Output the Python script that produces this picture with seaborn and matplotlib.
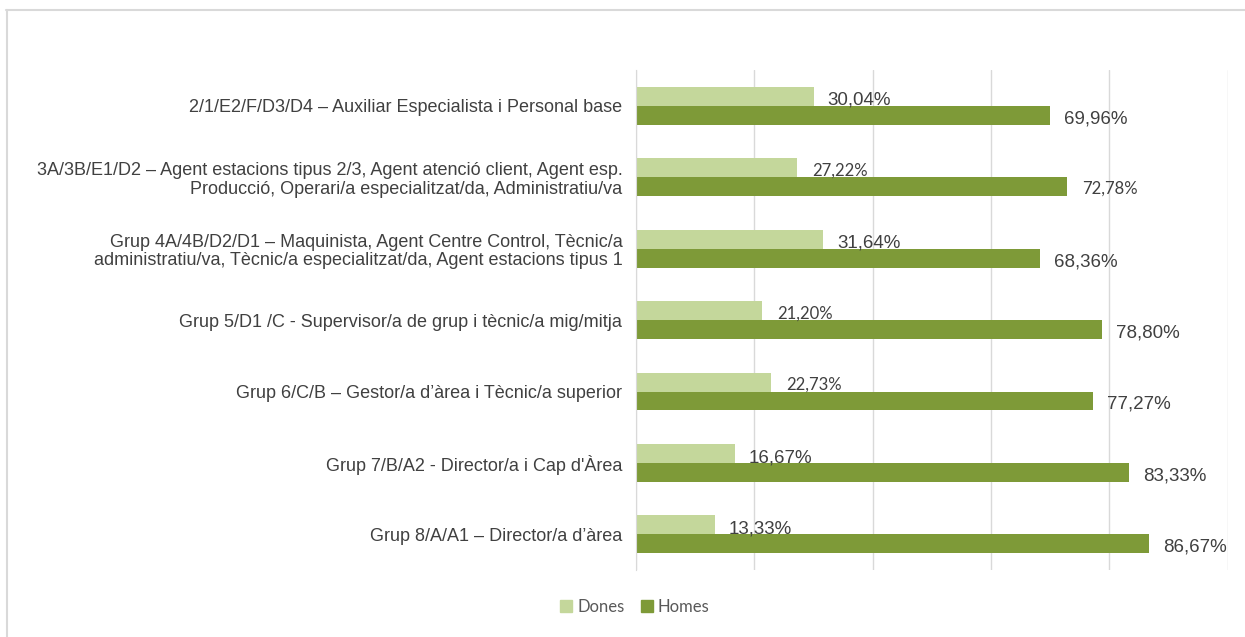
import pandas as pd
import matplotlib.pyplot as plt
import seaborn as sns
from matplotlib.lines import Line2D

categories = [
    "2/1/E2/F/D3/D4 – Auxiliar Especialista i Personal base",
    "3A/3B/E1/D2 – Agent estacions tipus 2/3, Agent atenció client, Agent esp.\nProducció, Operari/a especialitzat/da, Administratiu/va",
    "Grup 4A/4B/D2/D1 – Maquinista, Agent Centre Control, Tècnic/a\nadministratiu/va, Tècnic/a especialitzat/da, Agent estacions tipus 1",
    "Grup 5/D1 /C - Supervisor/a de grup i tècnic/a mig/mitja",
    "Grup 6/C/B – Gestor/a d’àrea i Tècnic/a superior",
    "Grup 7/B/A2 - Director/a i Cap d'Àrea",
    "Grup 8/A/A1 – Director/a d’àrea",
]
series = ["Dones", "Homes"]
dones = [30.04, 27.22, 31.64, 21.20, 22.73, 16.67, 13.33]
homes = [69.96, 72.78, 68.36, 78.80, 77.27, 83.33, 86.67]

# labels that appear in the smaller, Calibri-like font in the original
small_labels = {("Dones", 1), ("Homes", 1), ("Dones", 3), ("Dones", 4)}

colors = {"Dones": "#c4d79b", "Homes": "#7e9a38"}

df = pd.DataFrame({
    "categoria": categories * 2,
    "grup": ["Dones"] * len(categories) + ["Homes"] * len(categories),
    "valor": dones + homes,
})

sns.set_style("white")
plt.rcParams['font.family'] = ['Liberation Sans', 'DejaVu Sans']

fig = plt.figure(figsize=(12.45, 6.37), dpi=100)
ax = fig.add_axes([0.511, 0.105, 0.475, 0.785])

sns.barplot(data=df, y="categoria", x="valor", hue="grup", hue_order=series,
            order=categories, palette=colors, orient="h", width=0.53,
            saturation=1, ax=ax, legend=False, edgecolor="none")

ax.set_xlim(0, 100)
ax.set_xticks([0, 20, 40, 60, 80, 100])
ax.set_xticklabels([])
ax.grid(axis="x", color="#d9d9d9", linewidth=1)
ax.set_axisbelow(True)
for side in ["top", "right", "bottom"]:
    ax.spines[side].set_visible(False)
ax.spines["left"].set_color("#d9d9d9")
ax.tick_params(axis="both", length=0)
ax.tick_params(axis="y", pad=10, labelsize=13, labelcolor="#404040")
for lab in ax.get_yticklabels():
    lab.set_linespacing(1.1)
ax.set_xlabel("")
ax.set_ylabel("")

for container, name in zip(ax.containers, series):
    vals = dones if name == "Dones" else homes
    for i, (bar, v) in enumerate(zip(container, vals)):
        y = bar.get_y() + bar.get_height() / 2
        txt = f"{v:.2f}%".replace(".", ",")
        dy = -3 if name == "Dones" else -2.5
        if (name, i) in small_labels:
            ax.annotate(txt, (bar.get_width(), y), xytext=(11, dy + 1),
                        textcoords="offset points", va="center", ha="left",
                        fontsize=12, family=["Lato", "DejaVu Sans"], color="#404040")
        else:
            ax.annotate(txt, (bar.get_width(), y), xytext=(10, dy),
                        textcoords="offset points", va="center", ha="left",
                        fontsize=13.5, color="#404040")

handles = [plt.Rectangle((0, 0), 1, 1, color=colors[s]) for s in series]
fig.legend(handles, series, loc="center", bbox_to_anchor=(0.51, 0.047), ncol=2,
           frameon=False, handlelength=0.7, handleheight=0.7, handletextpad=0.3,
           columnspacing=1.0, prop={"family": ["Lato", "DejaVu Sans"], "size": 12},
           labelcolor="#595959")

# light frame around the chart area
fig.add_artist(Line2D([0.005, 1.0], [0.984, 0.984], transform=fig.transFigure,
                      color="#d9d9d9", linewidth=1.5))
fig.add_artist(Line2D([0.006, 0.006], [0.0, 0.984], transform=fig.transFigure,
                      color="#d9d9d9", linewidth=1.5))

fig.savefig("out.png", dpi=100, facecolor="white")
